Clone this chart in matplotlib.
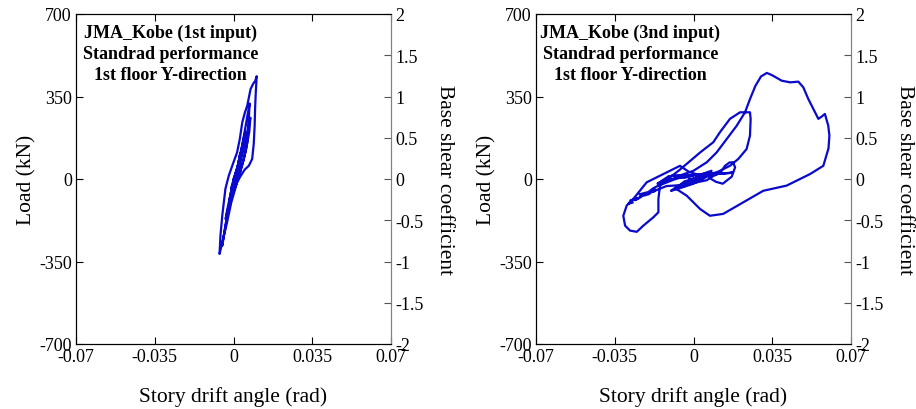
import matplotlib.pyplot as plt
import numpy as np

plt.rcParams['font.family'] = ['Liberation Serif', 'DejaVu Serif']
plt.rcParams['axes.unicode_minus'] = False

# 1st input: story drift angle (rad) and load (kN)
drift_1 = [0, 0.0015, 0.001, -0.001, -0.0005, 0.002, 0.003, 0.002, -0.001, -0.002,
           -0.001, 0.001, 0.003, 0.0045, 0.0052, 0.0048, 0.003, 0.0005, -0.002, -0.0035,
           -0.003, -0.001, 0.002, 0.004, 0.0055, 0.0062, 0.0068, 0.0072, 0.0070, 0.0066,
           0.0060, 0.0045, 0.002, -0.001, -0.003, -0.0045, -0.0055, -0.0062, -0.0060, -0.0058,
           -0.005, -0.0036, -0.0021, 0, 0.0016, 0.0028, 0.0039, 0.0050, 0.0061, 0.0076,
           0.0088, 0.0096, 0.0103, 0.0101, 0.0099, 0.0096, 0.0094, 0.0090, 0.0083, 0.0068,
           0.0050, 0.0030, 0.0016, -0.0013, -0.0025, -0.0036, -0.005, -0.0045, -0.003, -0.001,
           0.001, 0.003, 0.005, 0.0068, 0.0075, 0.007, 0.0055, 0.003, 0.0005, -0.001,
           0.0005, 0.001]
load_1 = [0, 40, 10, -40, -20, 60, 110, 50, -50, -100,
          -60, 20, 100, 170, 200, 150, 80, -20, -110, -170,
          -140, -50, 60, 150, 230, 270, 300, 320, 290, 220,
          150, 80, 0, -100, -190, -250, -290, -318, -280, -240,
          -156, -42, 14, 71, 113, 170, 240, 280, 311, 382,
          405, 415, 436, 400, 368, 300, 226, 150, 85, 56,
          40, 10, -14, -85, -140, -198, -283, -250, -170, -80,
          0, 70, 150, 230, 260, 200, 120, 30, -40, -60,
          0, 20]

# 3nd input
drift_3 = [0, 0.003, 0.001, -0.003, -0.001, 0.004, 0.006, 0.003, -0.004, -0.006,
           -0.002, 0.005, 0.008, 0.006, 0.000, -0.008, -0.010, -0.007, 0.002, 0.007,
           0.010, 0.006, -0.004, -0.012, -0.016, -0.018, -0.017, -0.020, -0.022, -0.021,
           -0.024, -0.026, -0.025, -0.028, -0.029, -0.027, -0.028, -0.025, -0.023, -0.024,
           -0.020, -0.018, -0.016, -0.012, -0.008, -0.004, 0.002, 0.008, 0.012, 0.014,
           0.016, 0.0175, 0.0185, 0.017, 0.013, 0.010, 0.007, 0.011, 0.016, 0.0175,
           0.012, 0.004, -0.004, -0.011, -0.016, -0.010, -0.006, 0.003, 0.0088, 0.0118,
           0.0162, 0.0207, 0.0251, 0.0254, 0.0251, 0.0236, 0.0199, 0.0162, 0.0103, 0.005,
           -0.002, -0.006, -0.0149, -0.0208, -0.0268, -0.0297, -0.0312, -0.0304, -0.0282, -0.0252,
           -0.0223, -0.0179, -0.0156, -0.0156, -0.0149, -0.0127, -0.005, 0.002, -0.004, -0.0097,
           -0.006, 0, 0.0059, 0.0103, 0.0148, 0.0192, 0.0229, 0.0251, 0.0275, 0.0300,
           0.0326, 0.0350, 0.0392, 0.0430, 0.0466, 0.0488, 0.0510, 0.0533, 0.0555, 0.0570,
           0.0584, 0.0599, 0.0604, 0.0600, 0.0577, 0.0518, 0.0414, 0.0310, 0.0221, 0.0132,
           0.0073, 0.0029, -0.003, -0.008, -0.004, 0.002, -0.002]
load_3 = [0, 15, -5, -20, -5, 20, 25, 0, -30, -35,
          -10, 25, 35, 10, -20, -45, -50, -30, 5, 15,
          25, -5, -25, -30, -45, -55, -45, -65, -70, -60,
          -80, -90, -80, -95, -105, -100, -90, -85, -70, -65,
          -55, -40, -30, -15, 0, 10, 20, 25, 28, 56,
          70, 71, 50, 10, -20, -12, 5, 22, 25, 28,
          22, 18, 15, 12, -20, 10, 40, 113, 156, 199,
          255, 283, 283, 255, 184, 127, 85, 56, 28, 10,
          30, 56, 14, -14, -85, -113, -156, -198, -219, -224,
          -198, -163, -141, -85, -28, -7, 10, 20, 5, 14,
          15, 35, 71, 113, 170, 226, 283, 339, 395, 435,
          450, 440, 417, 410, 413, 389, 340, 297, 255, 265,
          276, 226, 184, 130, 56, 21, -28, -50, -99, -148,
          -156, -127, -71, -40, -10, 5, 0]

x_ticks = [-0.07, -0.035, 0, 0.035, 0.07]
x_labels = ['-0.07', '-0.035', '0', '0.035', '0.07']
y_ticks = [-700, -350, 0, 350, 700]
coef_ticks = [-2, -1.5, -1, -0.5, 0, 0.5, 1, 1.5, 2]
coef_labels = ['-2', '-1.5', '-1', '-0.5', '0', '0.5', '1', '1.5', '2']

panels = [
    (drift_1, load_1, 'JMA_Kobe (1st input)\nStandrad performance\n1st floor Y-direction', 76),
    (drift_3, load_3, 'JMA_Kobe (3nd input)\nStandrad performance\n1st floor Y-direction', 536),
]

fig = plt.figure(figsize=(9.16, 4.10), dpi=100)

for drift, load, note, left_px in panels:
    ax = fig.add_axes([left_px / 916, 65 / 410, 315 / 916, 330 / 410])
    ax.plot(drift, load, color='#0a0acc', lw=1.6)
    ax.set_xlim(-0.07, 0.07)
    ax.set_ylim(-700, 700)
    ax.set_xticks(x_ticks)
    ax.set_xticklabels(x_labels)
    ax.set_yticks(y_ticks)
    ax.tick_params(direction='in', length=5, labelsize=13, top=True, pad=3)
    ax.set_xlabel('Story drift angle (rad)', fontsize=15.5, labelpad=15)
    ax.set_ylabel('Load (kN)', fontsize=15.5, labelpad=2)
    ax.spines['right'].set_color('gray')
    ax.text(0.30, 0.972, note, transform=ax.transAxes, ha='center', va='top',
            fontsize=13, fontweight='bold', linespacing=1.32)

    ax2 = ax.twinx()
    ax2.set_ylim(-2, 2)
    ax2.set_yticks(coef_ticks)
    ax2.set_yticklabels(coef_labels)
    ax2.tick_params(direction='in', length=5, labelsize=13, color='#555555', pad=3)
    ax2.spines['right'].set_color('gray')
    ax2.set_ylabel('Base shear coefficient', fontsize=15.5, rotation=270, labelpad=22)

fig.savefig('out.png', dpi=100)
